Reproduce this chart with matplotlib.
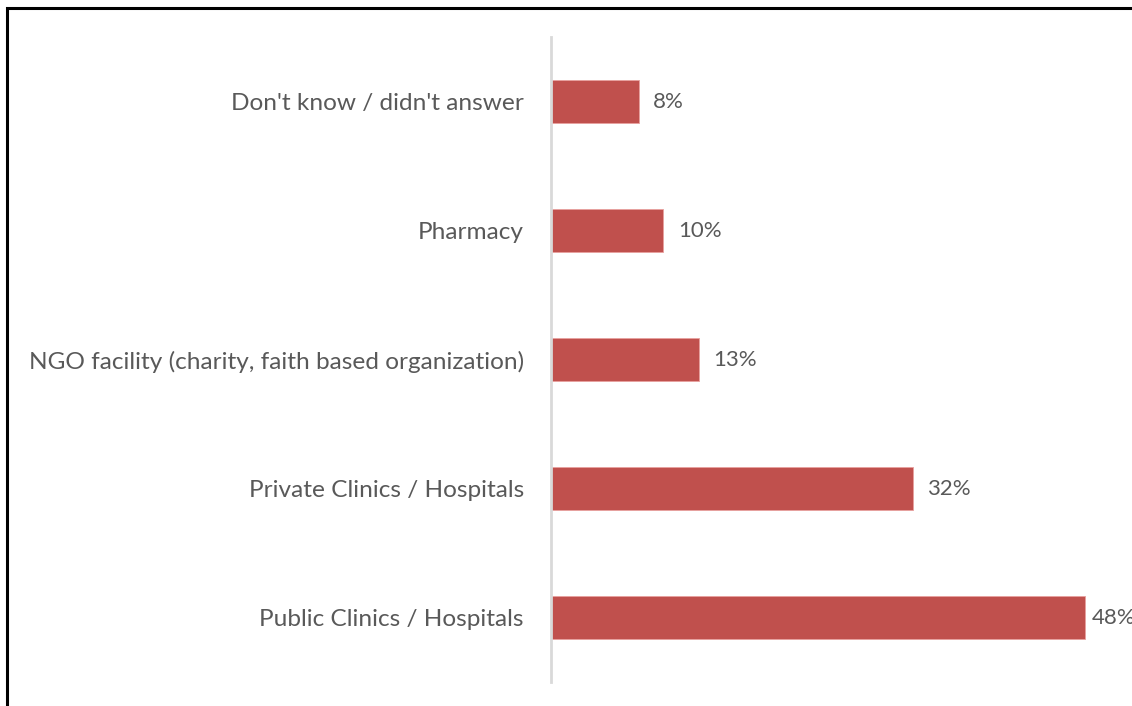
import matplotlib.pyplot as plt
from matplotlib.patches import Rectangle

# categories from top to bottom as drawn
categories = ["Don't know / didn't answer", "Pharmacy",
              "NGO facility (charity, faith based organization)",
              "Private Clinics / Hospitals", "Public Clinics / Hospitals"]
values = [7.9, 10.1, 13.3, 32.5, 48.0]
labels = ["8%", "10%", "13%", "32%", "48%"]

W, H = 1132, 706
fig = plt.figure(figsize=(W / 100, H / 100), dpi=100)
plt.rcParams['font.family'] = ['Lato', 'DejaVu Sans']

# axes placed in pixel terms
left, right, top, bottom = 551, 1110, 37, 682
ax = fig.add_axes([left / W, 1 - bottom / H, (right - left) / W, (bottom - top) / H])

ypos = list(range(len(categories)))[::-1]
ax.barh(ypos, values, height=0.34, color="#C0504D", edgecolor="#E8A09E", linewidth=0.6)
for y, v, lab in zip(ypos, values, labels):
    # label pulled in a bit when it would run off the right edge (as Excel does)
    ax.text(min(v + 1.3, 48.6), y + 0.01, lab, va="center_baseline", ha="left",
            fontsize=16, color="#595959", clip_on=False)

ax.set_ylim(-0.5, len(categories) - 0.5)
ax.set_xlim(0, 50.25)
ax.set_yticks(ypos)
ax.set_yticklabels(categories, fontsize=17.6, color="#595959")
ax.tick_params(axis="y", length=0, pad=19.5)
ax.set_xticks([])
for s in ["top", "right", "bottom"]:
    ax.spines[s].set_visible(False)
ax.spines["left"].set_color("#D9D9D9")
ax.spines["left"].set_linewidth(2)

# outer frame, cut off at right and bottom like the screenshot
fig.patches.append(Rectangle((7 / W, -0.1), 1.2, 1 - 8 / H + 0.1, transform=fig.transFigure,
                             fill=False, edgecolor="black", linewidth=2.2))

fig.savefig("out.png", dpi=100)
